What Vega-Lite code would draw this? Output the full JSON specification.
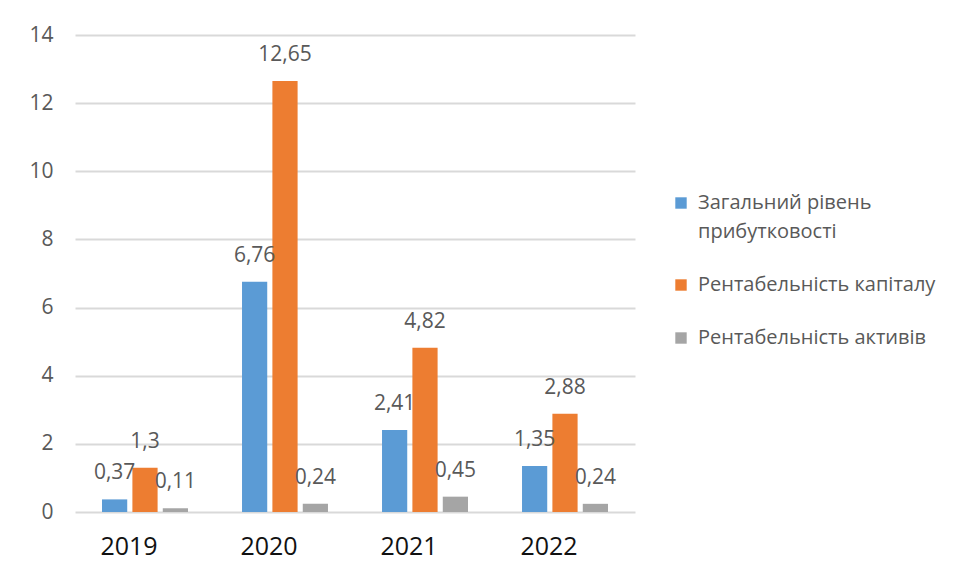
{
  "$schema": "https://vega.github.io/schema/vega-lite/v6.json",
  "width": 560,
  "height": 477,
  "autosize": {"type": "none"},
  "padding": {"left": 75, "top": 35, "right": 321, "bottom": 57},
  "background": "white",
  "config": {
    "view": {"stroke": null},
    "font": "Open Sans",
    "locale": {
      "number": {"decimal": ",", "thousands": " ", "grouping": [3], "currency": ["", " ₴"]}
    }
  },
  "data": {
    "values": [
      {"year": "2019", "series": "Загальний рівень прибутковості", "value": 0.37},
      {"year": "2019", "series": "Рентабельність капіталу", "value": 1.3},
      {"year": "2019", "series": "Рентабельність активів", "value": 0.11},
      {"year": "2020", "series": "Загальний рівень прибутковості", "value": 6.76},
      {"year": "2020", "series": "Рентабельність капіталу", "value": 12.65},
      {"year": "2020", "series": "Рентабельність активів", "value": 0.24},
      {"year": "2021", "series": "Загальний рівень прибутковості", "value": 2.41},
      {"year": "2021", "series": "Рентабельність капіталу", "value": 4.82},
      {"year": "2021", "series": "Рентабельність активів", "value": 0.45},
      {"year": "2022", "series": "Загальний рівень прибутковості", "value": 1.35},
      {"year": "2022", "series": "Рентабельність капіталу", "value": 2.88},
      {"year": "2022", "series": "Рентабельність активів", "value": 0.24}
    ]
  },
  "encoding": {
    "x": {
      "field": "year", "type": "nominal",
      "scale": {"paddingInner": 0.386, "paddingOuter": 0.193},
      "axis": {
        "title": null, "labelAngle": 0, "domain": false, "ticks": false,
        "labelFontSize": 25, "labelColor": "#111111", "labelPadding": 22,
        "labelOffset": -16
      }
    },
    "xOffset": {
      "field": "series", "type": "nominal",
      "sort": ["Загальний рівень прибутковості", "Рентабельність капіталу", "Рентабельність активів"],
      "scale": {"paddingInner": 0.17}
    },
    "y": {
      "field": "value", "type": "quantitative",
      "scale": {"domain": [0, 14], "nice": false},
      "axis": {
        "title": null, "values": [0, 2, 4, 6, 8, 10, 12, 14],
        "domain": false, "ticks": false,
        "labelFontSize": 21, "labelColor": "#595959", "labelPadding": 22,
        "gridColor": "#d9d9d9", "gridWidth": 2
      }
    }
  },
  "layer": [
    {
      "mark": {"type": "bar"},
      "encoding": {
        "color": {
          "field": "series", "type": "nominal",
          "sort": ["Загальний рівень прибутковості", "Рентабельність капіталу", "Рентабельність активів"],
          "scale": {"range": ["#5B9BD5", "#ED7D31", "#A5A5A5"]},
          "legend": {
            "title": null, "orient": "none", "legendX": 596, "legendY": 158,
            "symbolType": "square", "symbolSize": 130, "symbolStrokeWidth": 0,
            "labelFontSize": 20, "labelColor": "#595959", "labelLimit": 400,
            "rowPadding": 33, "labelOffset": 7,
            "labelExpr": "datum.label == 'Загальний рівень прибутковості' ? ['Загальний рівень', 'прибутковості'] : datum.label",
            "encode": {"labels": {"update": {"lineHeight": {"value": 29}}}}
          }
        }
      }
    },
    {
      "mark": {"type": "text", "baseline": "middle", "dy": -26, "fontSize": 21, "color": "#595959"},
      "encoding": {
        "text": {"field": "value", "type": "quantitative", "format": ",.2~f"}
      }
    }
  ]
}
